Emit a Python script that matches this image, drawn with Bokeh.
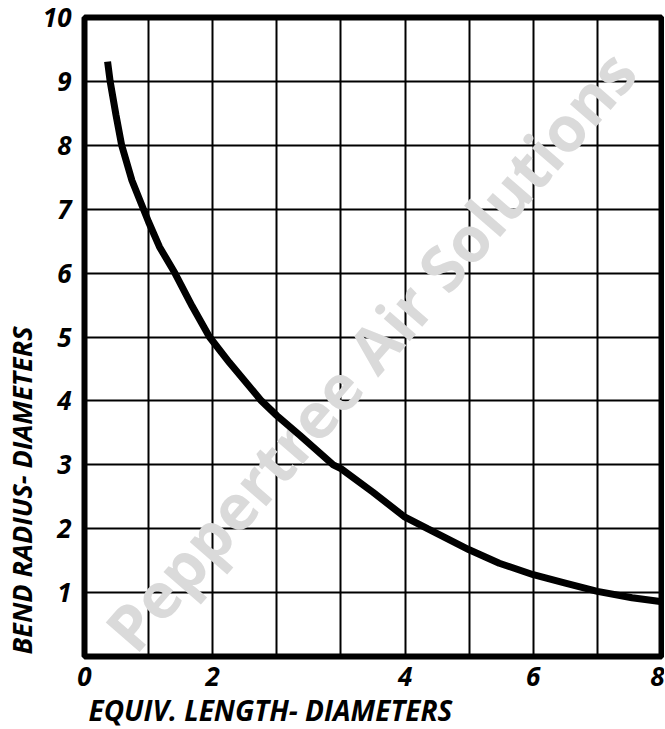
import math
from bokeh.plotting import figure
from bokeh.models import Range1d, FixedTicker, Label, Title
from bokeh.embed import file_html
from bokeh.resources import INLINE

# Curve, x in grid-cell units (0..9), y in diameters
curve_x = [0.36, 0.40, 0.49, 0.58, 0.74, 0.92, 1.0, 1.17, 1.41, 1.68, 1.95, 2.26, 2.76, 3.0,
           3.36, 3.88, 4.0, 4.50, 4.91, 5.0, 5.35, 6.0, 6.47, 7.0, 7.5, 8.0, 8.54, 8.98]
curve_y = [9.31, 9.0, 8.48, 8.0, 7.45, 7.0, 6.80, 6.41, 6.0, 5.48, 5.0, 4.60, 4.0, 3.77,
           3.46, 3.0, 2.94, 2.57, 2.25, 2.18, 2.0, 1.67, 1.46, 1.28, 1.15, 1.02, 0.92, 0.86]

x_tick_cells = [0, 2, 5, 7, 9]
x_tick_labels = ["0", "2", "4", "6", "8"]
y_ticks = [1, 2, 3, 4, 5, 6, 7, 8, 9, 10]
x_label = "EQUIV. LENGTH- DIAMETERS"
y_label = "BEND RADIUS- DIAMETERS"
watermark = "Peppertree Air Solutions"

FONT = "Open Sans"

p = figure(width=664, height=728, output_backend="svg", toolbar_location=None,
           x_range=Range1d(0, 9), y_range=Range1d(0, 10),
           min_border_left=84, min_border_right=3, min_border_top=17, min_border_bottom=67)
p.background_fill_color = "white"
p.border_fill_color = "white"
p.outline_line_color = "black"
p.outline_line_width = 6

p.xaxis.ticker = FixedTicker(ticks=x_tick_cells)
p.xaxis.major_label_overrides = {c: l for c, l in zip(x_tick_cells, x_tick_labels)}
p.yaxis.ticker = FixedTicker(ticks=y_ticks)
for ax in (p.xaxis, p.yaxis):
    ax.axis_line_color = None
    ax.major_tick_line_color = None
    ax.minor_tick_line_color = None
    ax.major_label_text_font = FONT
    ax.major_label_text_font_style = "bold italic"
    ax.major_label_text_font_size = "26px"
    ax.major_label_text_color = "black"
p.xaxis.major_label_standoff = 4
p.yaxis.major_label_standoff = 7

p.xgrid.ticker = FixedTicker(ticks=list(range(0, 10)))
p.ygrid.ticker = FixedTicker(ticks=list(range(0, 11)))
p.grid.grid_line_color = "black"
p.grid.grid_line_width = 2
p.grid.grid_line_alpha = 1.0

p.add_layout(Label(x=4.45, y=4.8, text=watermark, angle=math.radians(49),
                   text_font=FONT, text_font_style="bold", text_font_size="63px",
                   text_color="#dadada", text_align="center", text_baseline="middle",
                   level="underlay"))

p.line(curve_x, curve_y, line_color="black", line_width=7, line_cap="butt")

p.add_layout(Title(text=x_label, align="left", offset=4, text_font=FONT,
                   text_font_style="bold italic", text_font_size="28px",
                   text_color="black", standoff=0), "below")
p.add_layout(Title(text=y_label, align="left", offset=2, text_font=FONT,
                   text_font_style="bold italic", text_font_size="27px",
                   text_color="black", standoff=0), "left")

open("out.html", "w").write(file_html(p, INLINE))
